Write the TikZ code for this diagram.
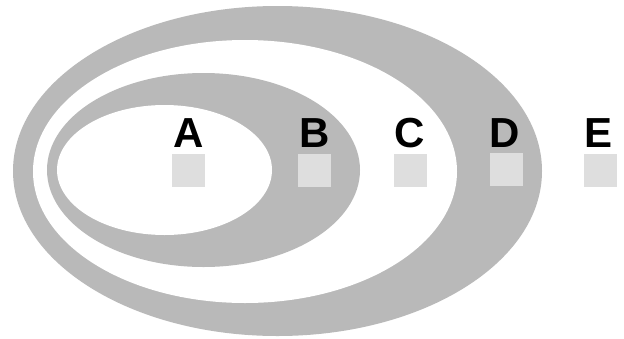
\documentclass[tikz,border=0pt]{standalone}
\usepackage{fontspec}
\setmainfont{Liberation Sans}
\definecolor{ringgray}{RGB}{185,185,185}
\definecolor{boxgray}{RGB}{222,222,222}
\begin{document}
\begin{tikzpicture}[x=1pt,y=-1pt,
  lab/.style={anchor=base,inner sep=0pt,font=\fontsize{42}{42}\selectfont\bfseries,text=black},
  sq/.style={fill=boxgray,draw=none,minimum width=33pt,minimum height=33pt,inner sep=0pt}]
\useasboundingbox (0,0) rectangle (624,338);
\fill[white] (0,0) rectangle (624,338);
\fill[ringgray] (277.5,171) ellipse [x radius=264.5, y radius=165];
\fill[white] (245,171.5) ellipse [x radius=212, y radius=131.5];
\fill[ringgray] (203.5,170) ellipse [x radius=156.5, y radius=97];
\fill[white] (164.5,170) ellipse [x radius=107.5, y radius=65];
\node[sq] (sa) at (188.5,170.5) {};
\node[sq] (sb) at (314,170.5) {};
\node[sq] (sc) at (410,170.5) {};
\node[sq] (sd) at (506.5,169.5) {};
\node[sq] (se) at (600,170) {};
\node[lab] (la) at (188.5,147) {A};
\node[lab] (lb) at (314.5,147) {B};
\node[lab] (lc) at (410,147) {C};
\node[lab] (ld) at (505,147) {D};
\node[lab] (le) at (599,147) {E};
\end{tikzpicture}
\end{document}
